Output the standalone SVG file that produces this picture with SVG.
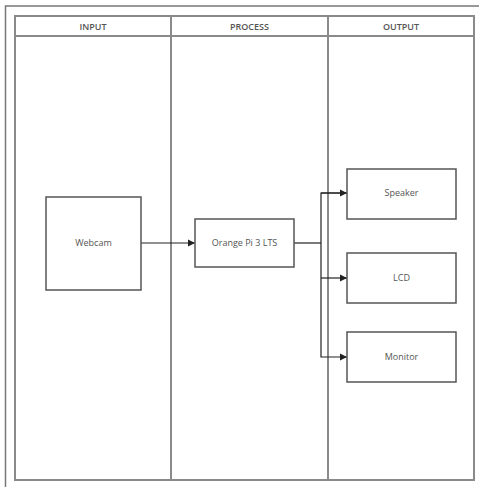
<svg xmlns="http://www.w3.org/2000/svg" width="479" height="487" viewBox="0 0 479 487">
<defs>
<marker id="arr" markerWidth="8" markerHeight="8" refX="7" refY="4" orient="auto" markerUnits="userSpaceOnUse">
<path d="M0,0.5 L7,4 L0,7.5 Z" fill="#222"/>
</marker>
<style>
.frame{fill:none;stroke:#777;stroke-width:1.5}
.lane{fill:none;stroke:#8a8a8a;stroke-width:2}
.hdr{font-family:"Open Sans","DejaVu Sans",sans-serif;font-size:9px;fill:#555;text-anchor:middle;font-weight:600}
.box{fill:#fff;stroke:#555;stroke-width:1.5}
.lbl{font-family:"Open Sans","DejaVu Sans",sans-serif;font-size:9px;fill:#555;text-anchor:middle}
.edge{fill:none;stroke:#222;stroke-width:1.2}
</style>
</defs>
<rect width="479" height="487" fill="#fff"/>
<path class="frame" d="M479,6 L5.5,6 L5.5,487"/>
<g id="lanes">
<rect class="lane" x="15" y="16" width="459" height="464"/>
<line class="lane" x1="15" y1="36" x2="474" y2="36"/>
<line class="lane" x1="171" y1="16" x2="171" y2="480"/>
<line class="lane" x1="328" y1="16" x2="328" y2="480"/>
<text class="hdr" x="93" y="29.5">INPUT</text>
<text class="hdr" x="249.5" y="29.5">PROCESS</text>
<text class="hdr" x="401" y="29.5">OUTPUT</text>
</g>
<g id="connectors">
<line class="edge" x1="141" y1="243" x2="195" y2="243" marker-end="url(#arr)"/>
<path class="edge" d="M294,243 L321,243"/>
<path class="edge" d="M347,193 L321,193 L321,357 L347,357" marker-end="url(#arr)"/>
<path class="edge" d="M321,193 L347,193" marker-end="url(#arr)"/>
<path class="edge" d="M321,278 L347,278" marker-end="url(#arr)"/>
</g>
<g id="webcam">
<rect class="box" x="46" y="197" width="95" height="93"/>
<text class="lbl" x="93.5" y="246">Webcam</text>
</g>
<g id="orangepi">
<rect class="box" x="195" y="219" width="99" height="48"/>
<text class="lbl" x="244.5" y="246">Orange Pi 3 LTS</text>
</g>
<g id="speaker">
<rect class="box" x="347" y="169" width="109" height="50"/>
<text class="lbl" x="401.5" y="196">Speaker</text>
</g>
<g id="lcd">
<rect class="box" x="347" y="253" width="109" height="50"/>
<text class="lbl" x="401.5" y="281">LCD</text>
</g>
<g id="monitor">
<rect class="box" x="347" y="332" width="109" height="50"/>
<text class="lbl" x="401.5" y="360">Monitor</text>
</g>
</svg>
